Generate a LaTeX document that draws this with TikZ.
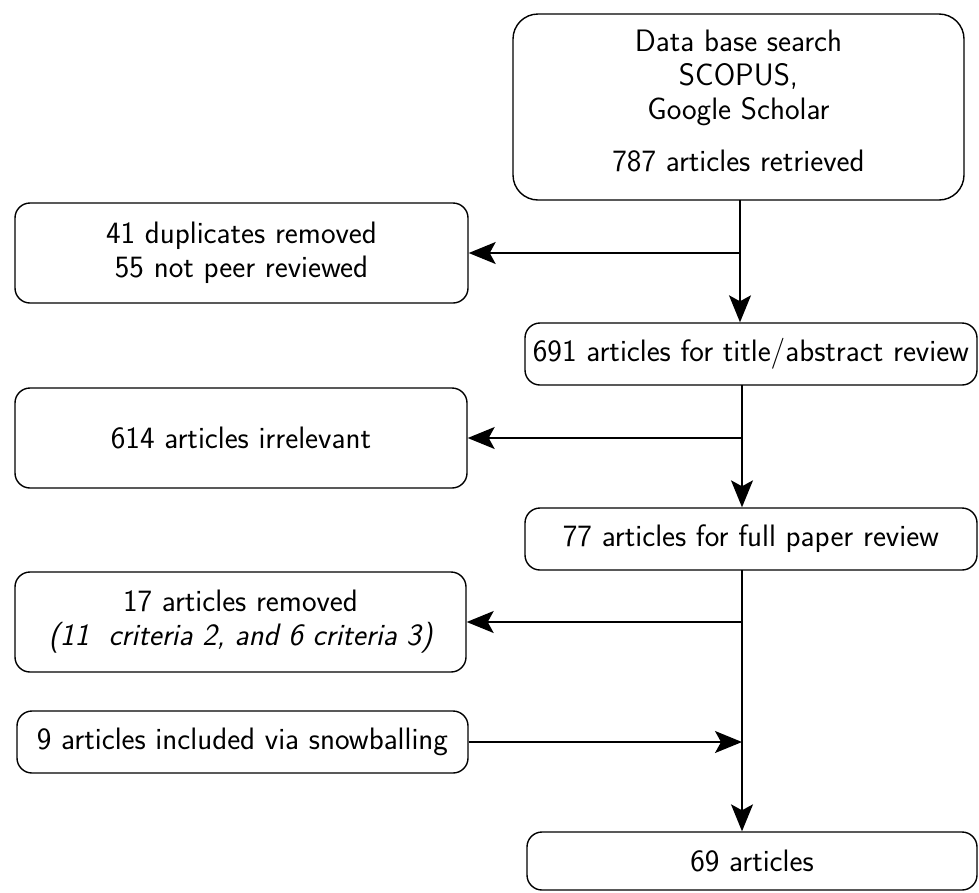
\documentclass[tikz,border=0pt]{standalone}
\usepackage{fontspec}
\usetikzlibrary{arrows.meta}
\begin{document}
\begin{tikzpicture}[x=1pt,y=-1pt,
  box/.style={draw,line width=1.4pt,rounded corners=15pt,align=center,inner sep=0pt,
    font=\sffamily\fontsize{31}{34}\selectfont},
  arr/.style={line width=1.4pt,-{Stealth[length=27pt,width=22pt,inset=6pt]}}]
\useasboundingbox (0,0) rectangle (979,892);
\node[box,rounded corners=25pt,minimum width=451pt,minimum height=186pt,text depth=12pt] (top) at (738.5,107)
  {Data base search\\SCOPUS,\\ Google Scholar\\[18pt]787 articles retrieved};
\node[box,minimum width=453pt,minimum height=100pt] (b2) at (241.5,253)
  {41 duplicates removed\\55 not peer reviewed};
\node[box,minimum width=452pt,minimum height=62pt] (b691) at (751,354)
  {691 articles for title/abstract review};
\node[box,minimum width=452pt,minimum height=100pt] (b614) at (241,438)
  {614 articles irrelevant};
\node[box,minimum width=452pt,minimum height=62pt] (b77) at (751,539)
  {77 articles for full paper review};
\node[box,minimum width=451pt,minimum height=100pt] (b17) at (240.5,622)
  {17 articles removed\\\itshape (11\ \ criteria 2, and 6 criteria 3)};
\node[box,minimum width=451pt,minimum height=62pt] (b9) at (242.5,742)
  {9 articles included via snowballing};
\node[box,minimum width=450pt,minimum height=58pt] (b69) at (752,861)
  {69 articles};
\coordinate (s1) at (740,200);
\coordinate (s2) at (742,385);
\coordinate (s3) at (742,570);
\draw[arr] (s1) -- (s1 |- b691.north);
\draw[arr] (s1 |- b2.east) -- (b2.east);
\draw[arr] (s2) -- (s2 |- b77.north);
\draw[arr] (s2 |- b614.east) -- (b614.east);
\draw[arr] (s3) -- (s3 |- b69.north);
\draw[arr] (s3 |- b17.east) -- (b17.east);
\draw[arr] (b9.east) -- (s3 |- b9.east);
\end{tikzpicture}
\end{document}
